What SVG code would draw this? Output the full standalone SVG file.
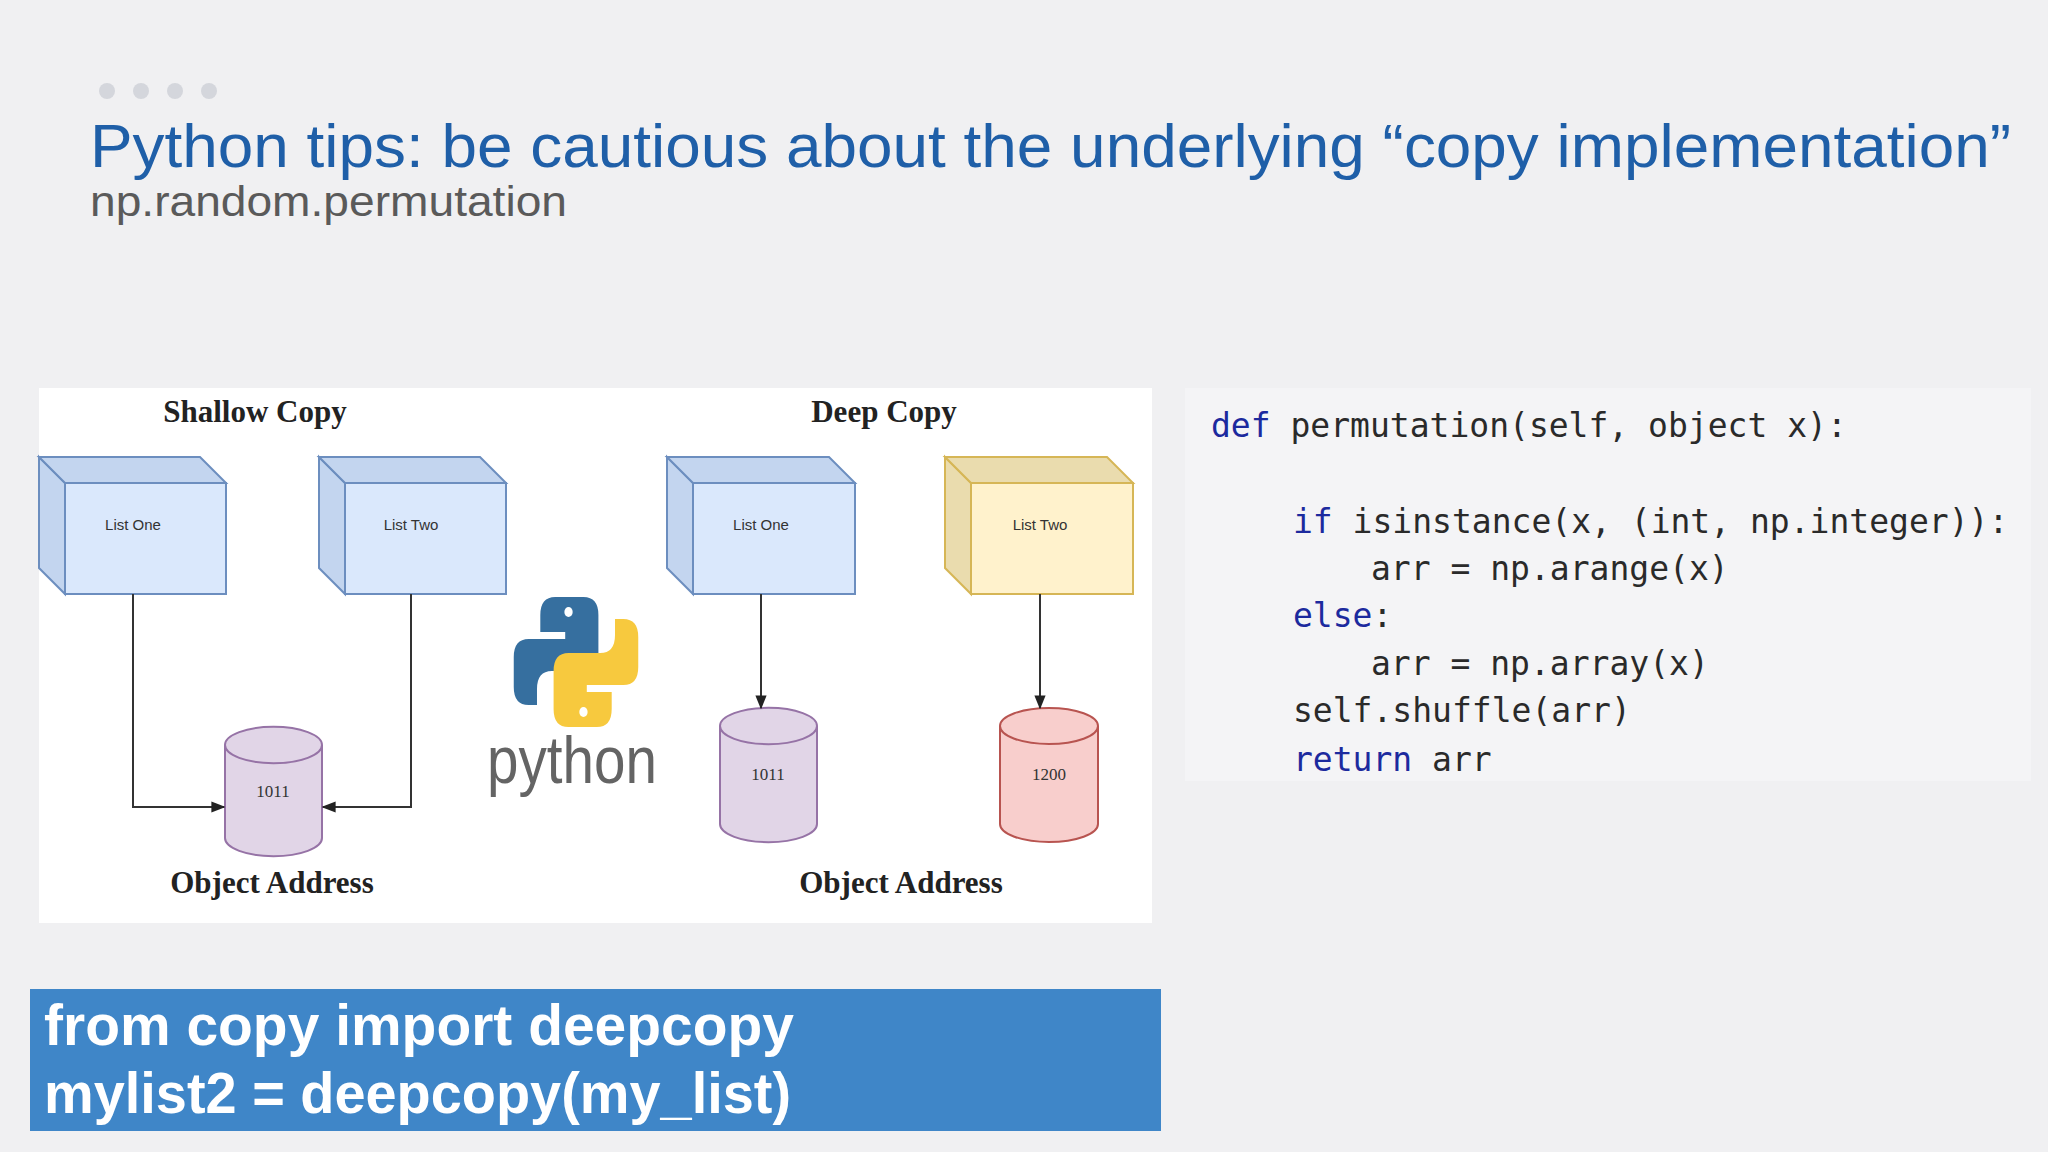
<svg xmlns="http://www.w3.org/2000/svg" width="2048" height="1152" viewBox="0 0 2048 1152">
<defs>
<style>
.cube{stroke:#6c8ebf;stroke-width:2}
.blue{fill:#dae8fc}.blueD{fill:#c3d5ef}
.yel{fill:#fff2cc}.yelD{fill:#eadcae}
.lbl{font-family:"Liberation Sans",sans-serif;font-size:15px;fill:#333;text-anchor:middle}
.hd{font-family:"Liberation Serif",serif;font-weight:bold;font-size:31px;fill:#222;text-anchor:middle}
.ln{fill:none;stroke:#333;stroke-width:2}
.code{font-family:"DejaVu Sans Mono",monospace;font-size:33px;fill:#2a2a2a;white-space:pre}
.kw{fill:#1c2a9e}
.num{font-family:"Liberation Serif",serif;font-size:17px;fill:#333;text-anchor:middle}
</style>
<marker id="ah" viewBox="0 0 10 10" refX="9" refY="5" markerWidth="7" markerHeight="7" orient="auto"><path d="M0 1 L10 5 L0 9 z" fill="#222"/></marker>
</defs>
<rect width="2048" height="1152" fill="#f0f0f2"/>
<g id="dots" fill="#d4d6dc"><circle cx="107" cy="91" r="8"/><circle cx="141" cy="91" r="8"/><circle cx="175" cy="91" r="8"/><circle cx="209" cy="91" r="8"/></g>
<text x="90" y="167" font-family="Liberation Sans,sans-serif" font-size="62" fill="#1f5fa8" textLength="1921" lengthAdjust="spacingAndGlyphs">Python tips: be cautious about the underlying “copy implementation”</text>
<text x="90" y="216" font-family="Liberation Sans,sans-serif" font-size="42" fill="#5a5a5a" textLength="477" lengthAdjust="spacingAndGlyphs">np.random.permutation</text>
<rect x="39" y="388" width="1113" height="535" fill="#ffffff"/>
<text class="hd" x="255" y="422">Shallow Copy</text>
<text class="hd" x="884" y="422">Deep Copy</text>
<g id="s1"><path class="cube blueD" d="M39 457 L65 483 L65 594 L39 568 Z"/><path class="cube blueD" d="M39 457 L200 457 L226 483 L65 483 Z"/><rect class="cube blue" x="65" y="483" width="161" height="111"/><text class="lbl" x="133" y="530">List One</text></g>
<g id="s2"><path class="cube blueD" d="M319 457 L345 483 L345 594 L319 568 Z"/><path class="cube blueD" d="M319 457 L480 457 L506 483 L345 483 Z"/><rect class="cube blue" x="345" y="483" width="161" height="111"/><text class="lbl" x="411" y="530">List Two</text></g>
<g id="d1"><path class="cube blueD" d="M667 457 L693 483 L693 594 L667 568 Z"/><path class="cube blueD" d="M667 457 L829 457 L855 483 L693 483 Z"/><rect class="cube blue" x="693" y="483" width="162" height="111"/><text class="lbl" x="761" y="530">List One</text></g>
<g id="d2"><path class="cube yelD" style="stroke:#d6b656" d="M945 457 L971 483 L971 594 L945 568 Z"/><path class="cube yelD" style="stroke:#d6b656" d="M945 457 L1107 457 L1133 483 L971 483 Z"/><rect class="cube yel" style="stroke:#d6b656" x="971" y="483" width="162" height="111"/><text class="lbl" x="1040" y="530">List Two</text></g>
<g id="c1"><path d="M225 745 A48 18 0 0 1 322 745 L322 838 A48 18 0 0 1 225 838 Z" fill="#e1d5e7" stroke="#9673a6" stroke-width="2"/><path d="M225 745 A48 18 0 0 0 322 745" fill="none" stroke="#9673a6" stroke-width="2"/><text class="num" x="273" y="797">1011</text></g>
<g id="c2"><path d="M720 726 A48 18 0 0 1 817 726 L817 824 A48 18 0 0 1 720 824 Z" fill="#e1d5e7" stroke="#9673a6" stroke-width="2"/><path d="M720 726 A48 18 0 0 0 817 726" fill="none" stroke="#9673a6" stroke-width="2"/><text class="num" x="768" y="780">1011</text></g>
<g id="c3"><path d="M1000 726 A49 18 0 0 1 1098 726 L1098 824 A49 18 0 0 1 1000 824 Z" fill="#f8cecc" stroke="#b85450" stroke-width="2"/><path d="M1000 726 A49 18 0 0 0 1098 726" fill="none" stroke="#b85450" stroke-width="2"/><text class="num" x="1049" y="780">1200</text></g>
<text class="hd" x="272" y="893">Object Address</text>
<text class="hd" x="901" y="893">Object Address</text>
<g id="connectors">
<path class="ln" d="M133 594 V807 H224" marker-end="url(#ah)"/>
<path class="ln" d="M411 594 V807 H323" marker-end="url(#ah)"/>
<path class="ln" d="M761 594 V708" marker-end="url(#ah)"/>
<path class="ln" d="M1040 594 V708" marker-end="url(#ah)"/>
</g>
<g id="pylogo">
<g transform="translate(576 0) scale(0.83 1) translate(-576 0)">
<path d="M565 597 h20 q18 0 18 18 v38 q0 18 -18 18 h-38 q-18 0 -18 18 v16 h-10 q-18 0 -18 -18 v-30 q0 -18 18 -18 h44 v-7 h-30 v-17 q0 -18 18 -18 z" fill="#366f9f"/>
<circle cx="567" cy="612" r="5" fill="#fff"/>
<path d="M587 727 h-20 q-18 0 -18 -18 v-38 q0 -18 18 -18 h38 q18 0 18 -18 v-16 h10 q18 0 18 18 v30 q0 18 -18 18 h-44 v7 h30 v17 q0 18 -18 18 z" fill="#f7c93e"/>
<circle cx="585" cy="712" r="5" fill="#fff"/>
</g>
<text x="487" y="783" font-family="Liberation Sans,sans-serif" font-size="66" fill="#646464" textLength="170" lengthAdjust="spacingAndGlyphs">python</text>
</g>
<rect x="1185" y="388" width="846" height="393" fill="#f4f4f6"/>
<text class="code" x="1211" y="437"><tspan class="kw">def</tspan> permutation(self, object x):</text>
<text class="code" x="1293" y="533"><tspan class="kw">if</tspan> isinstance(x, (int, np.integer)):</text>
<text class="code" x="1371" y="580">arr = np.arange(x)</text>
<text class="code" x="1293" y="627"><tspan class="kw">else</tspan>:</text>
<text class="code" x="1371" y="675">arr = np.array(x)</text>
<text class="code" x="1293" y="722">self.shuffle(arr)</text>
<text class="code" x="1293" y="771"><tspan class="kw">return</tspan> arr</text>
<rect x="30" y="989" width="1131" height="142" fill="#3f86c8"/>
<text x="44" y="1045" font-family="Liberation Sans,sans-serif" font-weight="bold" font-size="57" fill="#fff" textLength="750" lengthAdjust="spacingAndGlyphs">from copy import deepcopy</text>
<text x="44" y="1113" font-family="Liberation Sans,sans-serif" font-weight="bold" font-size="57" fill="#fff" textLength="747" lengthAdjust="spacingAndGlyphs">mylist2 = deepcopy(my_list)</text>
</svg>
